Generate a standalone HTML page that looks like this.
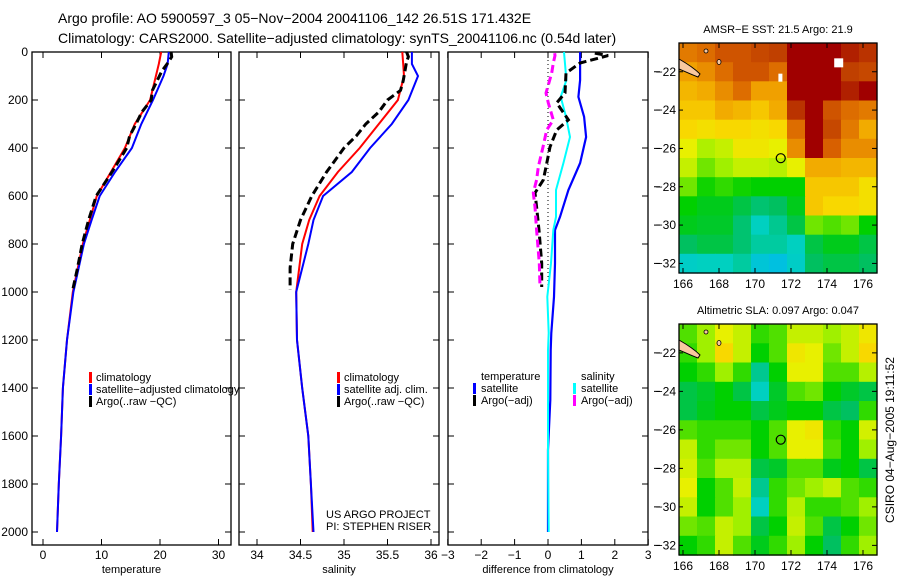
<!DOCTYPE html>
<html><head><meta charset="utf-8"><style>
html,body{margin:0;padding:0;background:#fff;}
svg{display:block;font-family:"Liberation Sans",sans-serif;}
</style></head><body>
<svg id="fig" width="900" height="580" viewBox="0 0 900 580">
<text x="58" y="23" font-size="14">Argo profile: AO 5900597_3 05−Nov−2004 20041106_142 26.51S 171.432E</text>
<text x="58" y="43" font-size="14">Climatology: CARS2000. Satellite−adjusted climatology: synTS_20041106.nc (0.54d later)</text>
<g id="g"></g>
</svg>
<script>
// ---- profile data ----
const depthClim = [0,50,100,200,300,400,500,600,700,800,1000,1200,1400,1600,1800,2000];
const tempClim = [20.2,19.8,19.3,18.3,15.7,14.0,11.6,9.2,8.0,6.8,5.1,4.1,3.4,3.1,2.7,2.4];
const tempSat = [21.5,21.3,20.6,18.8,16.8,15.2,12.3,9.7,8.3,7.0,5.2,4.1,3.4,3.1,2.7,2.4];
const depthArgo = [0,20,40,80,120,160,200,250,300,350,400,500,600,700,800,900,990];
const tempArgo = [21.9,22.0,21.5,20.3,19.5,18.7,18.5,16.9,15.9,14.8,14.3,11.8,9.1,7.8,6.7,5.9,5.1];
const salClim = [35.67,35.68,35.69,35.62,35.4,35.18,34.93,34.72,34.6,34.52,34.45,34.46,34.52,34.59,34.62,34.64];
const salSat = [35.78,35.78,35.85,35.74,35.55,35.3,35.09,34.76,34.65,34.59,34.45,34.46,34.52,34.59,34.62,34.65];
const salArgo = [35.72,35.74,35.72,35.7,35.68,35.65,35.5,35.4,35.25,35.14,35.0,34.8,34.63,34.5,34.41,34.38,34.38];
const depthDiffSat = [0,117,187,270,354,463,575,687,742,880,1020,1171,1242,1450,1658,2000];
const tempSatDiff = [0.96,0.96,0.91,1.08,1.14,0.96,0.61,0.36,0.21,0.21,0.18,0.1,0.08,0.07,0.0,0.0];
const salSatDiff = [0.48,0.55,0.38,0.54,0.66,0.46,0.24,0.24,0.16,0.09,-0.02,0.02,0.0,0.0,0.0,0.02];
const depthDiffArgo = [5,15,46,88,171,212,283,325,396,479,533,587,646,742,880,979];
const tempArgoDiff = [1.4,1.8,0.96,0.54,0.51,0.26,0.61,0.26,0.06,-0.06,-0.14,-0.39,-0.34,-0.27,-0.19,-0.19];
const salArgoDiff = [0.2,0.21,0.16,0.11,-0.06,0.01,0.16,-0.04,-0.15,-0.29,-0.34,-0.44,-0.39,-0.34,-0.26,-0.24];
const depthTicks = [0,200,400,600,800,1000,1200,1400,1600,1800,2000];
const tempTicks = [0,10,20,30];
const salTicks = [34,34.5,35,35.5,36];
const diffTicks = [-3,-2,-1,0,1,2,3];
// ---- map data (rows lat -21..-32, cols lon 166..176) ----
const sstGrid = [
[0.78,0.8,0.85,0.85,0.88,0.9,1,1,1,0.95,0.92],
[0.72,0.75,0.8,0.85,0.85,0.8,1,1,1,0.9,0.88],
[0.68,0.7,0.75,0.8,0.72,0.72,1,1,1,0.95,1],
[0.65,0.65,0.7,0.68,0.65,0.7,0.92,1,0.85,0.8,0.78],
[0.62,0.6,0.62,0.62,0.6,0.62,0.8,1,0.88,0.78,0.7],
[0.55,0.47,0.5,0.58,0.58,0.55,0.75,1,0.82,0.75,0.75],
[0.5,0.42,0.45,0.5,0.5,0.48,0.55,0.7,0.7,0.68,0.68],
[0.42,0.36,0.38,0.36,0.35,0.35,0.35,0.65,0.65,0.65,0.6],
[0.35,0.33,0.33,0.3,0.27,0.28,0.33,0.65,0.62,0.62,0.6],
[0.33,0.32,0.32,0.27,0.22,0.25,0.3,0.42,0.4,0.42,0.35],
[0.28,0.3,0.3,0.27,0.24,0.24,0.22,0.3,0.33,0.33,0.3],
[0.2,0.22,0.22,0.24,0.15,0.12,0.2,0.28,0.3,0.3,0.28]];
const slaGrid = [
[0.4,0.45,0.55,0.5,0.38,0.4,0.5,0.5,0.45,0.5,0.58],
[0.38,0.45,0.62,0.5,0.35,0.4,0.58,0.55,0.42,0.5,0.62],
[0.35,0.38,0.45,0.38,0.25,0.35,0.55,0.55,0.4,0.4,0.48],
[0.3,0.32,0.35,0.3,0.22,0.32,0.4,0.42,0.35,0.32,0.3],
[0.3,0.33,0.35,0.35,0.3,0.33,0.35,0.35,0.3,0.28,0.38],
[0.4,0.38,0.38,0.38,0.35,0.4,0.55,0.58,0.38,0.35,0.52],
[0.5,0.38,0.42,0.42,0.35,0.4,0.55,0.55,0.4,0.35,0.45],
[0.52,0.4,0.48,0.48,0.3,0.32,0.4,0.4,0.33,0.35,0.3],
[0.55,0.35,0.4,0.5,0.25,0.38,0.42,0.45,0.5,0.4,0.38],
[0.5,0.35,0.4,0.45,0.22,0.38,0.48,0.38,0.38,0.4,0.45],
[0.42,0.4,0.5,0.45,0.3,0.35,0.5,0.4,0.3,0.35,0.42],
[0.35,0.38,0.5,0.4,0.33,0.38,0.45,0.35,0.28,0.38,0.45]];
const lonTicks = [166,168,170,172,174,176];
const latTicks = [-22,-24,-26,-28,-30,-32];

const NS="http://www.w3.org/2000/svg";
const G=document.getElementById('g');
function mk(tag,attrs,parent){const e=document.createElementNS(NS,tag);for(const k in attrs)e.setAttribute(k,attrs[k]);(parent||G).appendChild(e);return e;}
const yD = d => 52 + d*0.24;
const PBOT=545, PTOP=52;

function frame(x0,x1,name){
  const r=mk('rect',{x:x0,y:PTOP,width:x1-x0,height:PBOT-PTOP,fill:'none',stroke:'#000','stroke-width':1.3});
  
  
}
function line(xs,ds,fx,col,w,dash,name){
  const pts=xs.map((v,i)=>fx(v).toFixed(1)+','+yD(ds[i]).toFixed(1)).join(' ');
  const p=mk('polyline',{points:pts,fill:'none',stroke:col,'stroke-width':w});
  if(dash)p.setAttribute('stroke-dasharray',dash);
  
  
}
function txt(x,y,s,anchor,size,name){
  const t=mk('text',{x:x,y:y,'font-size':size||12,'text-anchor':anchor||'start'});
  t.textContent=s;
  
  
  return t;
}
function panel(x0,x1,fx,ticks,fmt,title,name,depthLabels){
  frame(x0,x1,name+'-frame');
  depthTicks.forEach(d=>{
    mk('line',{x1:x0,x2:x0+6,y1:yD(d),y2:yD(d),stroke:'#000'});
    mk('line',{x1:x1,x2:x1-6,y1:yD(d),y2:yD(d),stroke:'#000'});
    if(depthLabels) txt(x0-4,yD(d)+4,String(d),'end',12,'depth-tick-label');
  });
  ticks.forEach(v=>{
    const x=fx(v);
    mk('line',{x1:x,x2:x,y1:PBOT,y2:PBOT-6,stroke:'#000'});
    mk('line',{x1:x,x2:x,y1:PTOP,y2:PTOP+6,stroke:'#000'});
    txt(x,559,fmt(v),'middle',12,name+'-tick-label');
  });
  txt((x0+x1)/2,573,title,'middle',11,name+'-axis-title');
}
function legendMark(x,y,col,name){
  const r=mk('rect',{x:x,y:y-9,width:3,height:11,fill:col});
  
  
}
// Panel 1 temperature
const fT=v=>43+v*5.85;
panel(32,231,fT,tempTicks,v=>String(v),'temperature','temperature-panel',true);
line(tempClim,depthClim,fT,'#f00',2,null,'temp-climatology-line');
line(tempSat,depthClim,fT,'#00f',2,null,'temp-satellite-line');
line(tempArgo,depthArgo,fT,'#000',3,'8,4','temp-argo-line');
legendMark(89,381,'#f00','legend-climatology-marker');txt(96,381,'climatology','start',11,'legend-climatology');
legendMark(89,393,'#00f','legend-satellite-marker');txt(96,393,'satellite−adjusted climatology','start',11,'legend-satellite');
legendMark(89,405,'#000','legend-argo-marker');txt(96,405,'Argo(..raw −QC)','start',11,'legend-argo');
// Panel 2 salinity
const fS=v=>257+(v-34)*87;
panel(239,439,fS,salTicks,v=>String(v),'salinity','salinity-panel',false);
line(salClim,depthClim,fS,'#f00',2,null,'sal-climatology-line');
line(salSat,depthClim,fS,'#00f',2,null,'sal-satellite-line');
line(salArgo,depthArgo,fS,'#000',3,'8,4','sal-argo-line');
legendMark(337,381,'#f00','legend2-climatology-marker');txt(344,381,'climatology','start',11,'legend2-climatology');
legendMark(337,393,'#00f','legend2-satellite-marker');txt(344,393,'satellite adj. clim.','start',11,'legend2-satellite');
legendMark(337,405,'#000','legend2-argo-marker');txt(344,405,'Argo(..raw −QC)','start',11,'legend2-argo');
txt(326,518,'US ARGO PROJECT','start',11,'project-label');
txt(326,530,'PI: STEPHEN RISER','start',11,'pi-label');
// Panel 3 difference
const fD=v=>548+v*33.4;
panel(448,648,fD,diffTicks,v=>v<0?'−'+(-v):String(v),'difference from climatology','difference-panel',false);
const z=mk('line',{x1:fD(0),x2:fD(0),y1:yD(0),y2:yD(1000),stroke:'#000','stroke-dasharray':'1,3'});


line(tempSatDiff,depthDiffSat,fD,'#00f',2.2,null,'temp-satellite-diff-line');
line(salSatDiff,depthDiffSat,fD,'#0ff',2,null,'sal-satellite-diff-line');
line(tempArgoDiff,depthDiffArgo,fD,'#000',3,'8,4','temp-argo-diff-line');
line(salArgoDiff,depthDiffArgo,fD,'#f0f',3,'8,4','sal-argo-diff-line');
txt(481,380,'temperature','start',11,'legend3-temperature-header');
legendMark(473,392,'#00f','legend3-temp-satellite-marker');txt(481,392,'satellite','start',11,'legend3-temp-satellite');
legendMark(473,404,'#000','legend3-temp-argo-marker');txt(481,404,'Argo(−adj)','start',11,'legend3-temp-argo');
txt(581,380,'salinity','start',11,'legend3-salinity-header');
legendMark(573,392,'#0ff','legend3-sal-satellite-marker');txt(581,392,'satellite','start',11,'legend3-sal-satellite');
legendMark(573,404,'#f0f','legend3-sal-argo-marker');txt(581,404,'Argo(−adj)','start',11,'legend3-sal-argo');

// ---- maps ----
const stops=[[0,[0,96,255]],[0.12,[0,192,224]],[0.22,[0,208,192]],[0.28,[0,192,96]],[0.35,[0,208,0]],[0.45,[160,240,0]],[0.55,[232,240,0]],[0.62,[248,216,0]],[0.72,[240,160,0]],[0.82,[216,96,0]],[0.9,[192,64,0]],[1,[160,0,0]]];
function cmap(v){for(let i=1;i<stops.length;i++){if(v<=stops[i][0]){const a=stops[i-1],b=stops[i],t=(v-a[0])/(b[0]-a[0]);return 'rgb('+a[1].map((c,k)=>Math.round(c+(b[1][k]-c)*t)).join(',')+')';}}return 'rgb(160,0,0)';}
function map(top,bot,grid,title,name){
  const L=679,R=877;
  const fx=lon=>683+(lon-166)*18;
  const fy=lat=>top+( -20.5 - lat)*((bot-top)/12);
  const cw=(R-L)/11, ch=(bot-top)/12;
  grid.forEach((row,i)=>row.forEach((v,j)=>{
    const c=mk('rect',{x:(L+j*cw).toFixed(1),y:(top+i*ch).toFixed(1),width:(cw+0.6).toFixed(1),height:(ch+0.6).toFixed(1),fill:cmap(v)});
    
    
  }));
  const land=mk('path',{d:'M679,'+(top+16)+' C686,'+(top+20)+' 694,'+(top+25)+' 700,'+(top+31)+' L698,'+(top+34)+' C690,'+(top+31)+' 684,'+(top+28)+' 679,'+(top+26)+' Z',fill:'#f8c8a0',stroke:'#000','stroke-width':1});
  
  
  mk('ellipse',{cx:719,cy:top+19,rx:2,ry:2.5,fill:'#f8c8a0',stroke:'#000','stroke-width':0.8});
  mk('ellipse',{cx:706,cy:top+8,rx:2,ry:2,fill:'#f8c8a0',stroke:'#000','stroke-width':0.8});
  const ring=mk('circle',{cx:fx(171.43),cy:fy(-26.51),r:4.5,fill:'none',stroke:'#000','stroke-width':1.2});
  
  
  const f=mk('rect',{x:L,y:top,width:R-L,height:bot-top,fill:'none',stroke:'#000','stroke-width':1.3});
  
  
  lonTicks.forEach(l=>{const x=fx(l);mk('line',{x1:x,x2:x,y1:bot,y2:bot-5,stroke:'#000'});mk('line',{x1:x,x2:x,y1:top,y2:top+5,stroke:'#000'});txt(x,bot+15,String(l),'middle',12,name+'-lon-label');});
  latTicks.forEach(l=>{const y=fy(l);mk('line',{x1:R,x2:R-5,y1:y,y2:y,stroke:'#000'});mk('line',{x1:L,x2:L+4,y1:y,y2:y,stroke:'#000'});mk('line',{x1:654,x2:660,y1:y,y2:y,stroke:'#000'});txt(676,y+4,'−'+(-l),'end',12,name+'-lat-label');});
  txt(778,top-10,title,'middle',11,name+'-title');
  return {fx,fy};
}
const m1=map(43,273,sstGrid,'AMSR−E SST: 21.5 Argo: 21.9','sst-map');
mk('rect',{x:m1.fx(174.4),y:m1.fy(-21.3),width:9,height:9,fill:'#fff'});
mk('rect',{x:m1.fx(171.3),y:m1.fy(-22.1),width:4,height:8,fill:'#fff'});
map(324,555,slaGrid,'Altimetric SLA: 0.097 Argo: 0.047','sla-map');
const ts=txt(0,0,'CSIRO 04−Aug−2005 19:11:52','middle',12,'timestamp-label');
ts.setAttribute('transform','translate(894,440) rotate(-90)');
</script>
</body></html>
